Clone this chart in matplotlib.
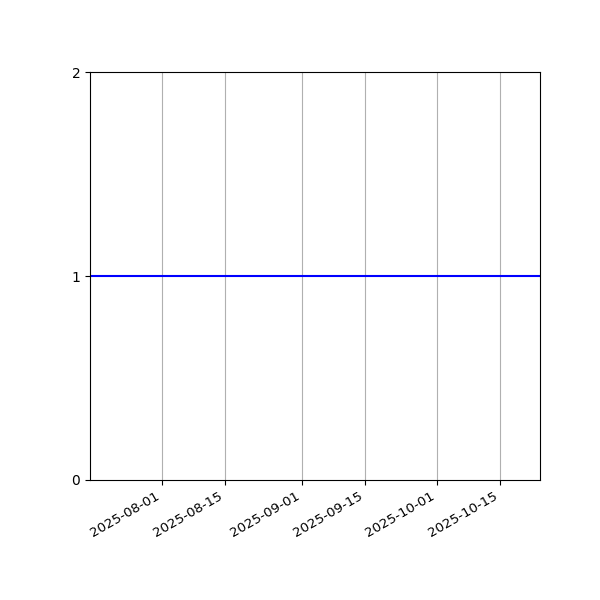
import matplotlib
matplotlib.use("Agg")
import matplotlib.pyplot as plt
import matplotlib.dates as mdates
import numpy as np

dates = np.array(["2025-07-16", "2025-10-24"], dtype="datetime64[D]")
values = [1, 1]
y_ticks = [0, 1, 2]

fig, ax = plt.subplots(figsize=(6, 6), dpi=100)
ax.plot(dates, values, color="blue")
ax.set_xlim(dates[0], dates[-1])
ax.set_ylim(0, 2)
ax.set_yticks(y_ticks)
ax.xaxis.set_major_formatter(mdates.DateFormatter("%Y-%m-%d"))
ax.tick_params(axis="x", labelsize=9.6)
ax.grid(axis="x")
fig.autofmt_xdate()
fig.subplots_adjust(left=0.15, right=0.9, top=0.88, bottom=0.2)
fig.savefig("out.png")
